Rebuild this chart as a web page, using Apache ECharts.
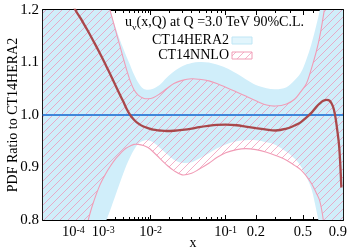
<!DOCTYPE html>
<html><head><meta charset="utf-8">
<script src="https://cdn.jsdelivr.net/npm/echarts@6/dist/echarts.min.js"></script>
<style>html,body{margin:0;padding:0;background:#fff}#c{width:357px;height:250px}</style>
</head><body><div id="c"></div>
<script>
// ---- data (x values and ratios) ----
const xValues = [1e-6,1e-5,3e-5,1e-4,2e-4,3.5e-4,5e-4,8e-4,1.2e-3,1.5e-3,2e-3,2.5e-3,3e-3,3.5e-3,4.2e-3,5e-3,6e-3,7.5e-3,9e-3,0.011,0.014,0.018,0.023,0.03,0.04,0.05,0.065,0.08,0.1,0.13,0.16,0.2,0.25,0.3,0.37,0.43,0.48,0.53,0.58,0.63,0.67,0.71,0.75,0.79,0.83,0.86,0.89,0.92,0.95,0.975];
const nnloCentral = [2.0,1.5,1.35,1.21,1.183,1.16,1.143,1.118,1.093,1.078,1.057,1.04,1.026,1.013,1.0,0.991,0.984,0.978,0.975,0.972,0.9705,0.9695,0.970,0.9715,0.974,0.977,0.9795,0.981,0.9815,0.9805,0.978,0.975,0.972,0.9705,0.974,0.980,0.986,0.995,1.004,1.015,1.022,1.027,1.029,1.027,1.017,1.0,0.972,0.937,0.862,null];
const heraUpper = [3.0,2.2,1.9,1.6,1.5,1.42,1.37,1.28,1.225,1.2,1.168,1.145,1.127,1.112,1.095,1.077,1.062,1.05,1.048,1.05,1.057,1.071,1.083,1.093,1.099,1.101,1.1,1.096,1.09,1.079,1.068,1.057,1.051,1.049,1.053,1.066,1.08,1.105,1.135,1.17,1.2,1.24,1.29,1.35,1.42,1.5,1.6,1.75,2.0,2.4];
const heraLower = [0.05,0.3,0.45,0.58,0.64,0.69,0.72,0.76,0.799,0.818,0.846,0.869,0.888,0.904,0.92,0.934,0.945,0.951,0.952,0.948,0.938,0.926,0.915,0.909,0.91,0.917,0.927,0.936,0.944,0.95,0.952,0.952,0.948,0.943,0.93,0.917,0.903,0.883,0.86,0.82,0.785,0.74,0.69,0.63,0.56,0.5,0.42,0.32,0.15,0.05];
const nnloUpper = [3.0,2.1,1.8,1.55,1.45,1.38,1.33,1.27,1.225,1.199,1.163,1.134,1.109,1.088,1.065,1.048,1.038,1.032,1.031,1.033,1.040,1.05,1.06,1.066,1.069,1.068,1.065,1.06,1.053,1.044,1.036,1.027,1.019,1.017,1.021,1.03,1.044,1.059,1.088,1.12,1.15,1.188,1.23,1.29,1.36,1.43,1.52,1.65,1.85,2.2];
const nnloLower = [0.05,0.3,0.5,0.66,0.745,0.798,0.83,0.866,0.89,0.902,0.916,0.925,0.932,0.937,0.941,0.944,0.944,0.942,0.938,0.93,0.918,0.905,0.894,0.886,0.889,0.897,0.908,0.919,0.928,0.934,0.936,0.934,0.929,0.923,0.914,0.904,0.896,0.884,0.87,0.852,0.836,0.8,0.74,0.67,0.6,0.53,0.45,0.35,0.2,0.05];
const heraCentralX = [1e-6, 0.975];
const heraCentral = [1.0, 1.0];
const xMin = 1.09e-6, xMax = 0.975;
const xLabelValues = [1e-4,1e-3,1e-2,0.1,0.2,0.5,0.9];
const xLabelTexts = ['10^-4','10^-3','10^-2','10^-1','0.2','0.5','0.9'];
const xMajorTicks = [1e-5,1e-4,1e-3,1e-2,0.1,0.2,0.5];
const xMinorTicks = [2e-3,3e-3,4e-3,5e-3,6e-3,7e-3,8e-3,9e-3,0.02,0.03,0.04,0.05,0.06,0.07,0.08,0.09,0.3,0.4,0.6,0.7,0.8,0.9];
const yMin = 0.8, yMax = 1.2, yStep = 0.1;

// ---- x scale: the axis is linear in x^0.2, mapped onto 0..100 ----
const P = 0.2;
const T = v => Math.pow(v, P);
const tMin = T(xMin), tMax = T(xMax);
const U = v => (T(v) - tMin) / (tMax - tMin) * 100;
const FONT = 'Liberation Serif';
const BLUE_FILL = '#d0eefa';
const PINK = '#f19cb6';
const SMOOTH = 0.35;

const hatch = (function () {
  const c = document.createElement('canvas'); c.width = 8; c.height = 8;
  const g = c.getContext('2d');
  g.strokeStyle = 'rgba(238,140,175,0.85)'; g.lineWidth = 0.8;
  g.beginPath();
  g.moveTo(0, 8); g.lineTo(8, 0);
  g.moveTo(-2, 2); g.lineTo(2, -2);
  g.moveTo(6, 10); g.lineTo(10, 6);
  g.stroke();
  return c;
})();

const pts = arr => xValues.map((x, i) => [U(x), arr[i]]);

function xLabel(v) {
  for (let i = 0; i < xLabelValues.length; i++) {
    if (Math.abs(U(xLabelValues[i]) - v) < 1e-6) {
      const s = xLabelTexts[i];
      if (s.indexOf('^') >= 0) { const p = s.split('^'); return '{b|' + p[0] + '}{s|' + p[1] + '}'; }
      return '{b|' + s + '}';
    }
  }
  return '';
}

function bandSeries(name, upper, lower, fill, edge) {
  return {
    type: 'custom', name: name, xAxisIndex: 0, yAxisIndex: 0, silent: true,
    data: [[50, 1]],
    renderItem: function (params, api) {
      const up = xValues.map((x, i) => api.coord([U(x), upper[i]]));
      const lo = xValues.map((x, i) => api.coord([U(x), lower[i]]));
      const cs = params.coordSys;
      const clip = { type: 'rect', shape: { x: cs.x, y: cs.y, width: cs.width, height: cs.height } };
      const children = [{ type: 'polygon', shape: { points: up.concat(lo.slice().reverse()), smooth: SMOOTH }, style: { fill: fill, stroke: null } }];
      if (edge) {
        children.push({ type: 'polyline', shape: { points: up, smooth: SMOOTH }, style: { fill: null, stroke: edge, lineWidth: 1.1 } });
        children.push({ type: 'polyline', shape: { points: lo, smooth: SMOOTH }, style: { fill: null, stroke: edge, lineWidth: 1.1 } });
      }
      return { type: 'group', clipPath: clip, children: children };
    }
  };
}

const axisLineStyle = { color: '#000', width: 1.8 };
const xBase = { type: 'value', min: 0, max: 100, interval: 10, splitLine: { show: false } };
const yBase = { type: 'value', min: yMin, max: yMax, interval: yStep, splitLine: { show: false } };
const gridBox = { left: 43, right: 14, top: 10, bottom: 30, containLabel: false, outerBoundsMode: 'none' };

const chart = echarts.init(document.getElementById('c'), null, { renderer: 'canvas' });
chart.setOption({
  animation: false,
  grid: [Object.assign({}, gridBox), Object.assign({}, gridBox)],
  xAxis: [
    Object.assign({}, xBase, {
      gridIndex: 0, position: 'bottom',
      axisLine: { show: true, onZero: false, lineStyle: axisLineStyle },
      axisTick: { show: true, inside: true, length: 5, customValues: xMajorTicks.map(U), lineStyle: { color: '#000', width: 1 } },
      axisLabel: { show: true, customValues: xLabelValues.map(U), formatter: xLabel, margin: 5,
        rich: {
          b: { fontFamily: FONT, fontSize: 14.5, color: '#000', lineHeight: 15, padding: [4, 0, 0, 0], verticalAlign: 'bottom' },
          s: { fontFamily: FONT, fontSize: 10, color: '#000', lineHeight: 10, verticalAlign: 'top' }
        } },
      name: 'x', nameLocation: 'middle', nameGap: 16, nameMoveOverlap: false,
      nameTextStyle: { fontFamily: FONT, fontSize: 14, color: '#000' }
    }),
    Object.assign({}, xBase, {
      gridIndex: 0, position: 'top',
      axisLine: { show: true, onZero: false, lineStyle: axisLineStyle },
      axisTick: { show: true, inside: true, length: 5, customValues: xMajorTicks.map(U), lineStyle: { color: '#000', width: 1 } },
      axisLabel: { show: false }
    }),
    Object.assign({}, xBase, {
      gridIndex: 1, position: 'bottom',
      axisLine: { show: false, onZero: false },
      axisTick: { show: true, inside: true, length: 3, customValues: xMinorTicks.map(U), lineStyle: { color: '#000', width: 1 } },
      axisLabel: { show: false }
    }),
    Object.assign({}, xBase, {
      gridIndex: 1, position: 'top',
      axisLine: { show: false, onZero: false },
      axisTick: { show: true, inside: true, length: 3, customValues: xMinorTicks.map(U), lineStyle: { color: '#000', width: 1 } },
      axisLabel: { show: false }
    })
  ],
  yAxis: [
    Object.assign({}, yBase, {
      gridIndex: 0, position: 'left',
      axisLine: { show: true, onZero: false, lineStyle: axisLineStyle },
      axisTick: { show: true, inside: true, length: 5, lineStyle: { color: '#000', width: 1 } },
      minorTick: { show: true, splitNumber: 3, length: 3, lineStyle: { color: '#000', width: 1 } },
      axisLabel: { formatter: v => v.toFixed(1), fontFamily: FONT, fontSize: 15, color: '#000', margin: 4 },
      name: 'PDF Ratio to CT14HERA2', nameLocation: 'middle', nameGap: 23, nameMoveOverlap: false,
      nameTextStyle: { fontFamily: FONT, fontSize: 14, color: '#000' }
    }),
    Object.assign({}, yBase, {
      gridIndex: 0, position: 'right',
      axisLine: { show: true, onZero: false, lineStyle: axisLineStyle },
      axisTick: { show: true, inside: true, length: 5, lineStyle: { color: '#000', width: 1 } },
      minorTick: { show: true, splitNumber: 3, length: 3, lineStyle: { color: '#000', width: 1 } },
      axisLabel: { show: false }
    }),
    Object.assign({}, yBase, { gridIndex: 1, show: false })
  ],
  series: [
    bandSeries('CT14HERA2', heraUpper, heraLower, BLUE_FILL, null),
    bandSeries('CT14NNLO', nnloUpper, nnloLower, { image: hatch, repeat: 'repeat' }, PINK),
    { type: 'line', xAxisIndex: 0, yAxisIndex: 0, data: heraCentralX.map((x, i) => [U(x), heraCentral[i]]), symbol: 'none', lineStyle: { color: '#3f86da', width: 1.8 } },
    { type: 'line', xAxisIndex: 0, yAxisIndex: 0, data: pts(nnloCentral), symbol: 'none', smooth: 0.4, lineStyle: { color: '#a9484b', width: 2.3 } }
  ],
  graphic: [
    { type: 'text', left: 125, top: 15, style: { text: '{a|u}{s|v}{a|(x,Q) at Q =3.0 TeV 90%C.L.}',
        rich: {
          a: { fontFamily: FONT, fontSize: 14, fill: '#000', lineHeight: 14, verticalAlign: 'top' },
          s: { fontFamily: FONT, fontSize: 9, fill: '#000', lineHeight: 9, padding: [8, 0, 0, 0], verticalAlign: 'top' }
        } } },
    { type: 'text', x: 229, y: 40.5, style: { text: 'CT14HERA2', fontFamily: FONT, fontSize: 14, fill: '#000', align: 'right', verticalAlign: 'middle' } },
    { type: 'rect', shape: { x: 232, y: 37, width: 20, height: 7 }, style: { fill: '#e2f5fc', stroke: '#bfe6f5', lineWidth: 1 } },
    { type: 'text', x: 229, y: 55, style: { text: 'CT14NNLO', fontFamily: FONT, fontSize: 14, fill: '#000', align: 'right', verticalAlign: 'middle' } },
    { type: 'rect', shape: { x: 232, y: 52, width: 20, height: 7 }, style: { fill: { image: hatch, repeat: 'repeat' }, stroke: PINK, lineWidth: 1 } }
  ]
});
</script></body></html>
